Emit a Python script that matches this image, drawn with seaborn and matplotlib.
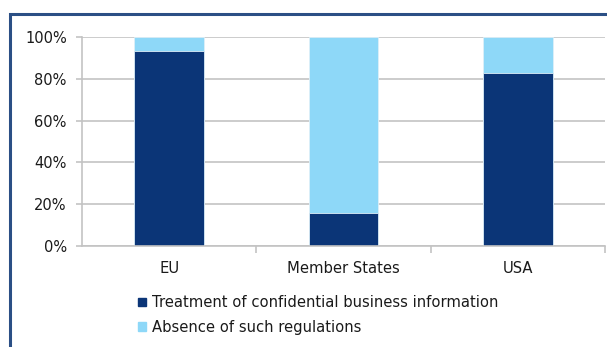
import matplotlib
matplotlib.use("Agg")
import matplotlib.pyplot as plt
import matplotlib.patches as mpatches
from matplotlib.ticker import FixedLocator, PercentFormatter
import seaborn as sns
import pandas as pd

# --- DATA ---
regions = ["EU", "Member States", "USA"]
treatment_pct = [93.3, 15.8, 82.8]
absence_pct = [6.7, 84.2, 17.2]
series_names = ["Treatment of confidential business information",
                "Absence of such regulations"]

DARK = "#0B3577"
LIGHT = "#8ED8F8"
GRID = "#C3C3C3"

df = pd.DataFrame({"Region": regions, "Treatment": treatment_pct, "Absence": absence_pct})
df["Total"] = df["Treatment"] + df["Absence"]

sns.set_theme(style="white")
plt.rcParams["font.family"] = ["DejaVu Sans"]

fig = plt.figure(figsize=(6.07, 3.47), dpi=100)
ax = fig.add_axes([82 / 607, 1 - 246 / 347, 523 / 607, 209 / 347])

# stacked bars: full height in light blue, treatment share drawn over it
sns.barplot(data=df, x="Region", y="Total", order=regions, color=LIGHT,
            width=0.4, saturation=1, edgecolor="#DDEFF8", linewidth=0.6, ax=ax)
sns.barplot(data=df, x="Region", y="Treatment", order=regions, color=DARK,
            width=0.4, saturation=1, edgecolor="#DDEFF8", linewidth=0.6, ax=ax)

ax.set_ylim(0, 100)
ax.set_xlim(-0.5, 2.5)
ax.set_yticks(range(0, 101, 20))
ax.yaxis.set_major_formatter(PercentFormatter(decimals=0))
ax.yaxis.grid(True, color=GRID, linewidth=1.2)
ax.set_axisbelow(True)
ax.set_xlabel("")
ax.set_ylabel("")

for side in ["top", "right"]:
    ax.spines[side].set_visible(False)
for side in ["left", "bottom"]:
    ax.spines[side].set_color(GRID)
    ax.spines[side].set_linewidth(1.2)

ax.tick_params(axis="y", which="major", length=4, color=GRID, width=1.2,
               labelsize=10.5, pad=7, left=True, labelcolor="#1a1a1a")
ax.tick_params(axis="x", which="major", length=0, labelsize=10.6, pad=11,
               labelcolor="#1a1a1a")
ax.xaxis.set_minor_locator(FixedLocator([0.5, 1.5, 2.5]))
ax.tick_params(axis="x", which="minor", length=5, color=GRID, width=1.2, bottom=True)

handles = [mpatches.Patch(color=DARK, label=series_names[0]),
           mpatches.Patch(color=LIGHT, label=series_names[1])]
fig.legend(handles=handles, loc="upper left", bbox_to_anchor=(125 / 607, 1 - 282 / 347),
           frameon=False, fontsize=10.6, handlelength=0.55, handleheight=0.55,
           handletextpad=0.4, labelspacing=0.65, labelcolor="#1a1a1a")

# dark blue frame (left and top edges visible in the crop)
fig.patches.append(mpatches.Rectangle((10 / 607, -0.1), 1.2, 1 - 14 / 347 + 0.1,
                                      transform=fig.transFigure, fill=False,
                                      edgecolor="#2B4F85", linewidth=2.2))

fig.savefig("out.png", dpi=100)
